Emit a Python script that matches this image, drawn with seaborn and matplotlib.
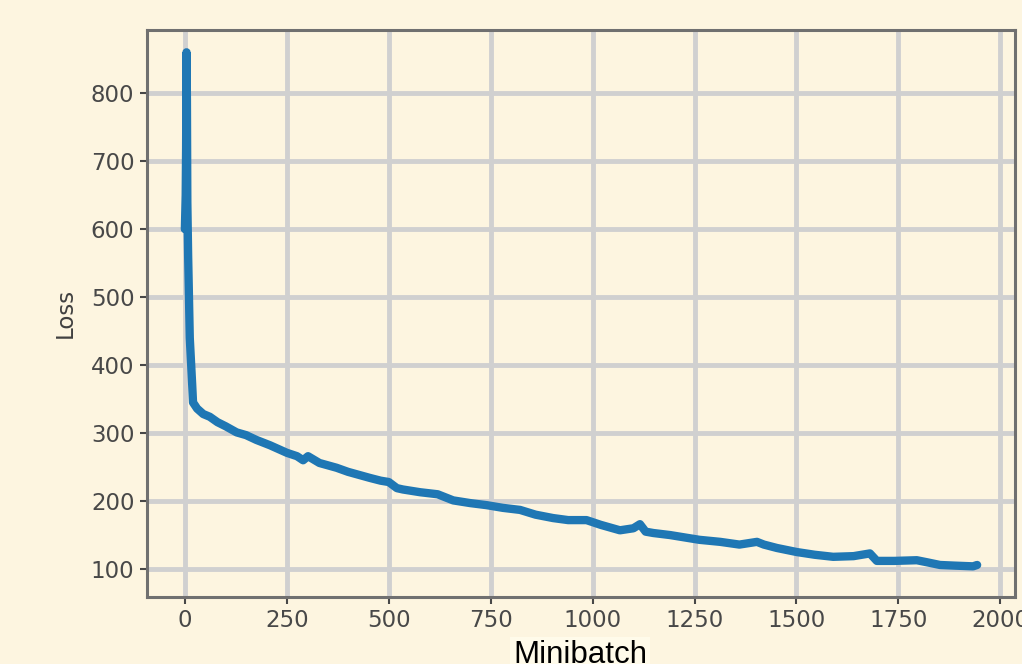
"""
Training loss per minibatch
"""

import matplotlib
matplotlib.use("Agg")
import matplotlib.pyplot as plt
import seaborn as sns

# Loss values
minibatch = [0, 2, 3, 4, 5, 6, 8, 10, 12, 15, 18, 20, 30, 45, 61, 80, 100, 127,
             150, 175, 209, 250, 275, 290, 302, 330, 372, 400, 430, 454, 480,
             500, 520, 535, 577, 620, 658, 700, 740, 780, 822, 860, 903, 940,
             985, 1020, 1067, 1100, 1116, 1130, 1149, 1190, 1231, 1262, 1313,
             1360, 1403, 1420, 1452, 1501, 1545, 1590, 1640, 1680, 1697, 1740,
             1795, 1820, 1852, 1890, 1933, 1943]
loss = [600, 650, 720, 860, 790, 640, 560, 500, 440, 405, 370, 345, 336, 328,
        324, 316, 310, 301, 297, 290, 282, 271, 266, 260, 266, 256, 249, 243,
        238, 234, 230, 228, 219, 217, 213, 210, 201, 197, 194, 190, 187, 180,
        175, 172, 172, 165, 157, 160, 166, 155, 153, 150, 146, 143, 140, 136,
        140, 136, 131, 125, 121, 118, 119, 123, 112, 112, 113, 110, 106, 105,
        104, 106]

bg = '#fdf5e0'

sns.set_theme(style="whitegrid")
plt.rcParams['font.family'] = ['DejaVu Sans']

fig = plt.figure(figsize=(10.22, 6.64), dpi=100, facecolor=bg)
ax = fig.add_axes([0.1438, 0.101, 0.849, 0.854])
ax.set_facecolor(bg)

sns.lineplot(x=minibatch, y=loss, ax=ax, color='#1f77b4', linewidth=6,
             estimator=None, sort=False)

ax.set_xlim(-93, 2035)
ax.set_ylim(59, 893)
ax.set_xticks([0, 250, 500, 750, 1000, 1250, 1500, 1750, 2000])
ax.set_yticks([100, 200, 300, 400, 500, 600, 700, 800])
ax.grid(True, color='#d0d0d0', linewidth=3.5)
for s in ax.spines.values():
    s.set_color('#707070')
    s.set_linewidth(2.2)
ax.tick_params(colors='#484848', labelsize=16.5, length=5, width=1.5,
               direction='out', bottom=True, left=True, pad=4)

ax.set_xlabel("")
ax.set_ylabel("Loss", fontsize=16.5, color='#404040', labelpad=10)

fig.text(0.5675, 0.002, "Minibatch", ha='center', va='baseline',
         fontsize=22.5, color='black', family=['Liberation Sans'],
         bbox=dict(facecolor='#fffbea', edgecolor='none', pad=2))

plt.savefig("out.png", dpi=100, facecolor=bg)
plt.close()
